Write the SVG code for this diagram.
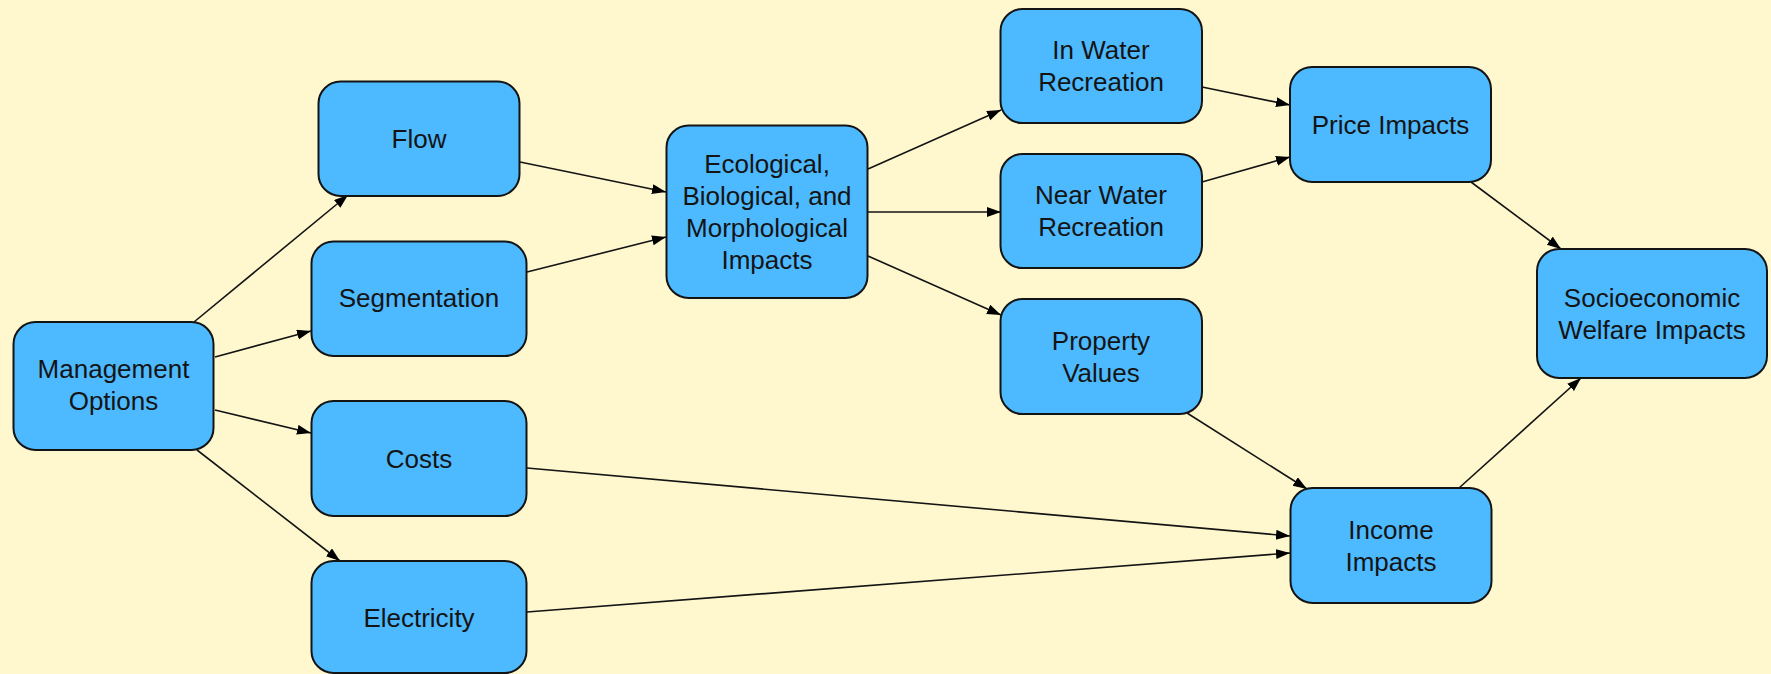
<svg xmlns="http://www.w3.org/2000/svg" width="1771" height="674" viewBox="0 0 1771 674">
<defs>
<style>
.node rect{fill:#4DB9FE;stroke:#141414;stroke-width:2}
.node text{font-family:"Liberation Sans",Arial,sans-serif;font-size:26px;fill:#141414;text-anchor:middle}
.edges line{stroke:#141414;stroke-width:1.6;marker-end:url(#arr)}
</style>
<marker id="arr" markerUnits="userSpaceOnUse" markerWidth="16" markerHeight="12" refX="14" refY="5" orient="auto">
<path d="M0,0 L14,5 L0,10 z" fill="#000"/>
</marker>
</defs>
<rect x="0" y="0" width="1771" height="674" fill="#FFF8CF"/>
<g class="edges">
<line x1="194" y1="322" x2="348" y2="195"/>
<line x1="215" y1="357" x2="311" y2="331"/>
<line x1="215" y1="410" x2="311" y2="433"/>
<line x1="197" y1="450" x2="340" y2="561"/>
<line x1="520" y1="162" x2="666" y2="192"/>
<line x1="527" y1="272" x2="666" y2="237"/>
<line x1="868" y1="169" x2="1001" y2="110"/>
<line x1="868" y1="212" x2="1001" y2="212"/>
<line x1="868" y1="256" x2="1001" y2="315"/>
<line x1="1202" y1="87" x2="1290" y2="105"/>
<line x1="1202" y1="182" x2="1290" y2="157"/>
<line x1="1471" y1="182" x2="1561" y2="249"/>
<line x1="1459" y1="488" x2="1581" y2="378"/>
<line x1="1187" y1="413" x2="1307" y2="489"/>
<line x1="527" y1="468" x2="1290" y2="536"/>
<line x1="527" y1="612" x2="1290" y2="553"/>
</g>
<g id="management-options" class="node"><rect x="13.5" y="322" width="200" height="128" rx="22"/><text x="113.5" y="378">Management</text><text x="113.5" y="410">Options</text></g>
<g id="flow" class="node"><rect x="318.5" y="81.5" width="201" height="114.5" rx="22"/><text x="419" y="148">Flow</text></g>
<g id="segmentation" class="node"><rect x="311.5" y="241.5" width="215" height="114.5" rx="22"/><text x="419" y="307">Segmentation</text></g>
<g id="costs" class="node"><rect x="311.5" y="401" width="215" height="115" rx="22"/><text x="419" y="467.5">Costs</text></g>
<g id="electricity" class="node"><rect x="311.5" y="561" width="215" height="112" rx="22"/><text x="419" y="627">Electricity</text></g>
<g id="ecological" class="node"><rect x="666.5" y="125.5" width="201" height="172.5" rx="22"/><text x="767" y="172.5">Ecological,</text><text x="767" y="204.5">Biological, and</text><text x="767" y="236.5">Morphological</text><text x="767" y="268.5">Impacts</text></g>
<g id="in-water-recreation" class="node"><rect x="1000.5" y="9" width="201.5" height="114" rx="22"/><text x="1101" y="59">In Water</text><text x="1101" y="91">Recreation</text></g>
<g id="near-water-recreation" class="node"><rect x="1000.5" y="154" width="201.5" height="114" rx="22"/><text x="1101" y="204">Near Water</text><text x="1101" y="236">Recreation</text></g>
<g id="property-values" class="node"><rect x="1000.5" y="299" width="201.5" height="115" rx="22"/><text x="1101" y="349.5">Property</text><text x="1101" y="381.5">Values</text></g>
<g id="price-impacts" class="node"><rect x="1290" y="67" width="201" height="115" rx="22"/><text x="1390.5" y="133.5">Price Impacts</text></g>
<g id="income-impacts" class="node"><rect x="1290.5" y="488" width="201" height="115" rx="22"/><text x="1391" y="538.5">Income</text><text x="1391" y="570.5">Impacts</text></g>
<g id="socioeconomic-welfare-impacts" class="node"><rect x="1537" y="249" width="230" height="129" rx="22"/><text x="1652" y="306.5">Socioeconomic</text><text x="1652" y="338.5">Welfare Impacts</text></g>
</svg>
